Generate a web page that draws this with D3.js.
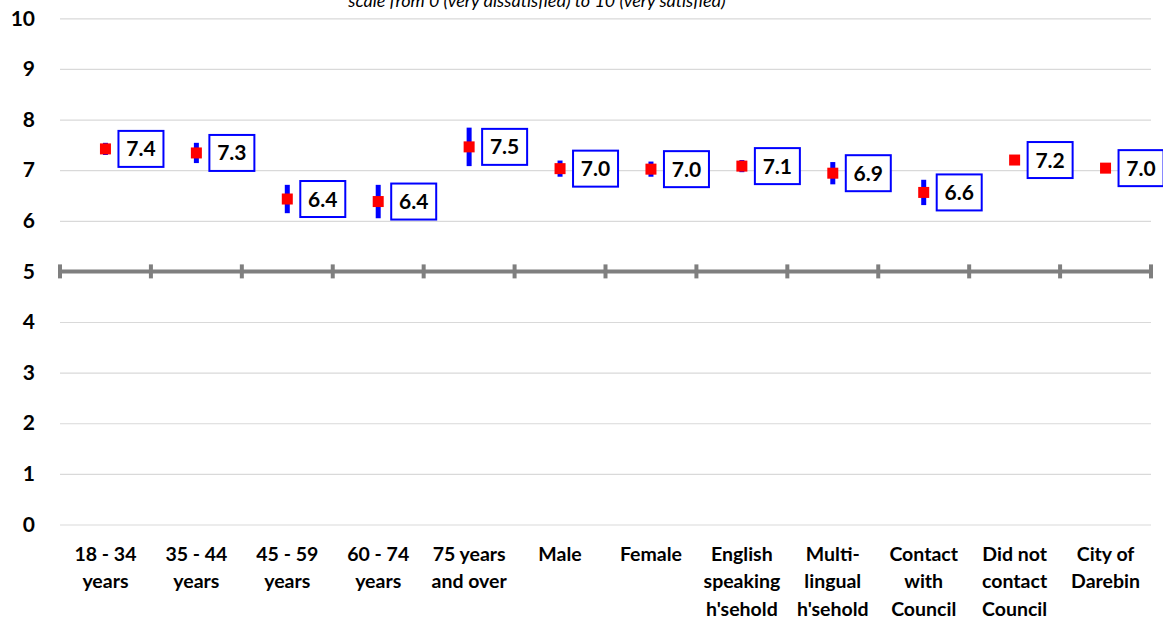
<!DOCTYPE html>
<html>
<head>
<meta charset="utf-8">
<script src="https://cdn.jsdelivr.net/npm/d3@7"></script>
<style>
  body { margin: 0; background: #fff; }
  svg { display: block; font-family: Lato, "Open Sans", sans-serif; }
</style>
</head>
<body>
<div id="chart"></div>
<script>
// categories, one array of lines each
var categories = [
    ["18 - 34", "years"], ["35 - 44", "years"], ["45 - 59", "years"], ["60 - 74", "years"],
    ["75 years", "and over"], ["Male"], ["Female"], ["English", "speaking", "h'sehold"],
    ["Multi-", "lingual", "h'sehold"], ["Contact", "with", "Council"],
    ["Did not", "contact", "Council"], ["City of", "Darebin"]
];
var means = [7.42, 7.34, 6.43, 6.38, 7.46, 7.03, 7.02, 7.08, 6.94, 6.56, 7.20, 7.04];
var errors = [0.12, 0.20, 0.28, 0.33, 0.38, 0.16, 0.15, 0.12, 0.22, 0.25, 0.07, 0.06];
var yTicks = [0, 1, 2, 3, 4, 5, 6, 7, 8, 9, 10];
var subtitle = "scale from 0 (very dissatisfied) to 10 (very satisfied)";

var width = 1163, height = 624;
var svg = d3.select("#chart").append("svg")
    .attr("width", width)
    .attr("height", height);

var x = d3.scaleBand()
    .domain(d3.range(categories.length))
    .range([60, 1151]);
var y = d3.scaleLinear()
    .domain([0, 10])
    .range([524.5, 18.3]);

// gridlines + y labels
var yAxis = svg.append("g")
    .attr("transform", "translate(60,0)")
    .call(d3.axisLeft(y).tickValues(yTicks).tickSize(-(1151 - 60)).tickPadding(25));
yAxis.select(".domain").remove();
yAxis.selectAll("line").attr("stroke", "#d9d9d9").attr("stroke-width", 1.2);
yAxis.selectAll("text")
    .attr("fill", "#000")
    .attr("font-size", 21)
    .attr("font-weight", "bold")
    .attr("font-family", "Lato");

// the 5 reference line with ticks
var midline = svg.append("g");
midline.append("line")
    .attr("x1", 60).attr("x2", 1151)
    .attr("y1", y(5)).attr("y2", y(5))
    .attr("stroke", "#7f7f7f").attr("stroke-width", 4);
var bounds = d3.range(categories.length).map(function(i) { return x(i); }).concat([x.range()[1]]);
midline.selectAll(".tk")
    .data(bounds)
    .enter()
    .append("line")
    .attr("class", "tk")
    .attr("x1", function(d) { return d; })
    .attr("x2", function(d) { return d; })
    .attr("y1", y(5) - 7)
    .attr("y2", y(5) + 7)
    .attr("stroke", "#7f7f7f").attr("stroke-width", 4);

// x labels
var xl = svg.append("g");
categories.forEach(function(lines, i) {
    var t = xl.append("text")
        .attr("x", x(i) + x.bandwidth() / 2)
        .attr("y", 561)
        .attr("text-anchor", "middle")
        .attr("font-size", 19.5)
        .attr("font-weight", "bold");
    lines.forEach(function(l, j) {
        t.append("tspan")
            .attr("x", x(i) + x.bandwidth() / 2)
            .attr("dy", j == 0 ? 0 : 27.3)
            .text(l);
    });
});

// error bars
var cx = function(i) { return x(i) + x.bandwidth() / 2; };
svg.selectAll(".err")
    .data(means)
    .enter()
    .append("line")
    .attr("class", "err")
    .attr("x1", function(d, i) { return cx(i); })
    .attr("x2", function(d, i) { return cx(i); })
    .attr("y1", function(d, i) { return y(d + errors[i]); })
    .attr("y2", function(d, i) { return y(d - errors[i]); })
    .attr("stroke", "#0000ff")
    .attr("stroke-width", 5);

// markers
svg.selectAll(".pt")
    .data(means)
    .enter()
    .append("rect")
    .attr("class", "pt")
    .attr("x", function(d, i) { return cx(i) - 5.5; })
    .attr("y", function(d) { return y(d) - 5.5; })
    .attr("width", 11)
    .attr("height", 11)
    .attr("fill", "#ff0000");

// value labels
var lab = svg.selectAll(".lab")
    .data(means)
    .enter()
    .append("g")
    .attr("class", "lab")
    .attr("transform", function(d, i) { return "translate(" + (cx(i) + 13) + "," + y(d) + ")"; });
lab.append("rect")
    .attr("x", 0).attr("y", -18)
    .attr("width", 45).attr("height", 36)
    .attr("fill", "#fff")
    .attr("stroke", "#0000ff")
    .attr("stroke-width", 2);
lab.append("text")
    .attr("x", 22.5)
    .attr("y", 7.5)
    .attr("text-anchor", "middle")
    .attr("font-size", 21)
    .attr("font-weight", "bold")
    .text(function(d) { return d3.format(".1f")(d); });

// subtitle, cut at the top as in the source
svg.append("text")
    .attr("x", 537)
    .attr("y", 7)
    .attr("text-anchor", "middle")
    .attr("font-size", 18)
    .attr("font-style", "italic")
    .text(subtitle);
</script>
</body>
</html>
